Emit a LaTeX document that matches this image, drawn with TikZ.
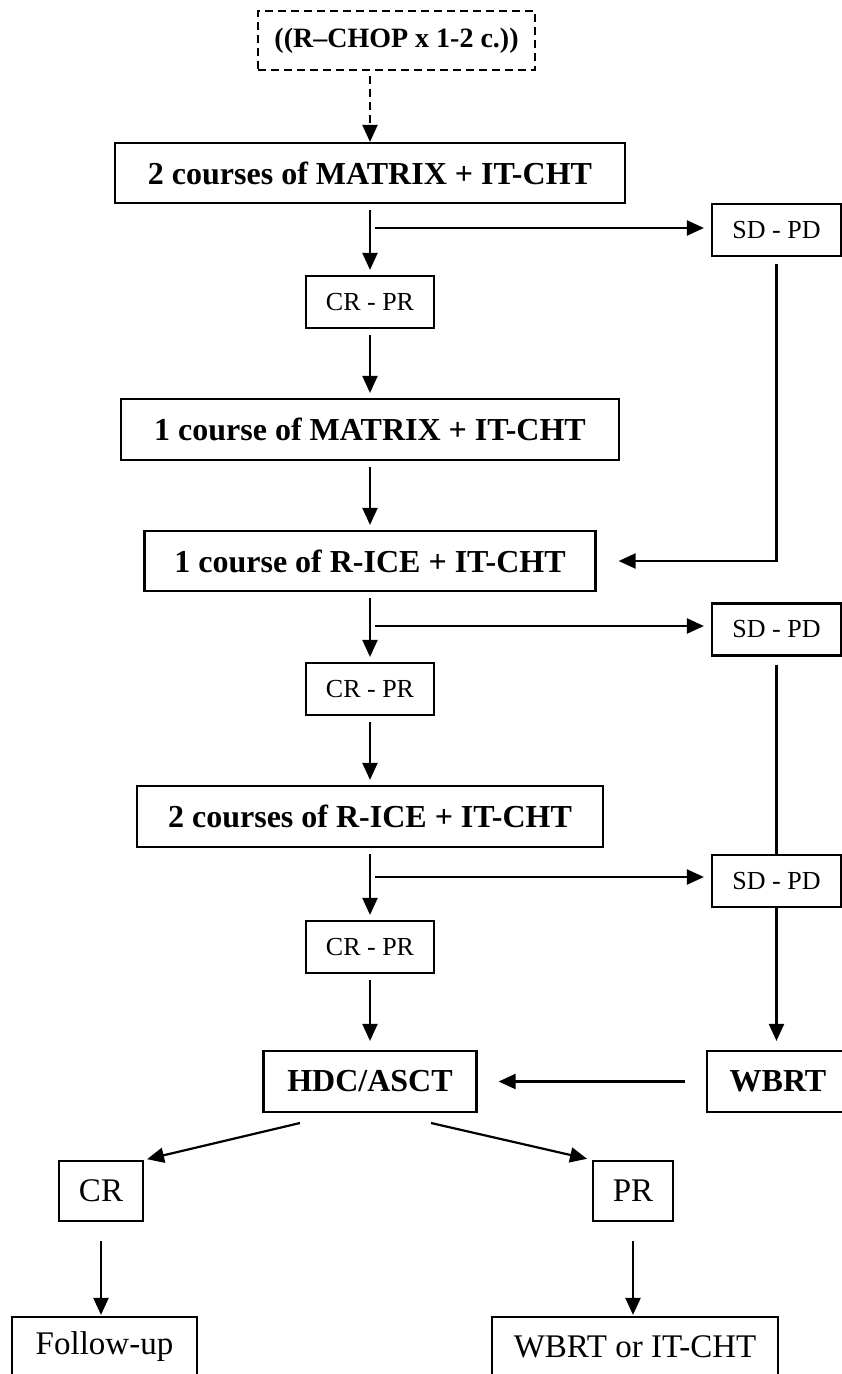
\documentclass[tikz,border=0pt]{standalone}
\usepackage{fontspec}
\setmainfont{Liberation Serif}
\usetikzlibrary{arrows.meta}

\begin{document}
\begin{tikzpicture}[x=1pt,y=-1pt,line width=2.2pt,>={Triangle[length=17pt,width=15pt]},
	box/.style={draw,inner sep=0pt,align=center},
	dashbox/.style={box,dash pattern=on 8pt off 5pt},
	big/.style={font=\fontsize{32}{38}\selectfont\bfseries},
	small/.style={font=\fontsize{26}{30}\selectfont},
	plain/.style={font=\fontsize{33}{38}\selectfont},
	link/.style={->,shorten <=6pt,shorten >=5pt}]

        \def\mx{370}
        \def\sx{776.5}
        \useasboundingbox (0,0) rectangle (842,1374);
        \clip (0,0) rectangle (842,1374);

% main column
        \node[dashbox,font=\fontsize{28}{34}\selectfont\bfseries,minimum width=277pt,minimum height=59pt] (chop) at (396.5,40.5) {((R–CHOP x 1-2 c.))};
        \node[box,big,minimum width=510pt,minimum height=60pt] (m2) at (\mx,173) {2 courses of MATRIX + IT-CHT};
        \node[box,small,minimum width=128pt,minimum height=52pt] (crpr1) at (\mx,302) {CR - PR};
        \node[box,big,minimum width=498pt,minimum height=61pt] (m1) at (\mx,429.5) {1 course of MATRIX + IT-CHT};
        \node[box,big,minimum width=451pt,minimum height=60pt] (ice1) at (\mx,561) {1 course of R-ICE + IT-CHT};
        \node[box,small,minimum width=128pt,minimum height=52pt] (crpr2) at (\mx,689) {CR - PR};
        \node[box,big,minimum width=466pt,minimum height=61pt] (ice2) at (\mx,816.5) {2 courses of R-ICE + IT-CHT};
        \node[box,small,minimum width=128pt,minimum height=52pt] (crpr3) at (\mx,947) {CR - PR};
        \node[box,big,minimum width=213pt,minimum height=61pt] (hdc) at (\mx,1081.5) {HDC/ASCT};

% right column
        \node[box,small,minimum width=129pt,minimum height=52pt] (sd1) at (\sx,230) {SD - PD};
        \node[box,small,minimum width=129pt,minimum height=52pt] (sd2) at (\sx,629.5) {SD - PD};
        \node[box,small,minimum width=129pt,minimum height=52pt] (sd3) at (\sx,881) {SD - PD};
        \node[box,big,minimum width=142pt,minimum height=61pt] (wbrt) at (778,1081.5) {WBRT};

% outcomes
        \node[box,plain,minimum width=84pt,minimum height=60pt] (cr) at (101,1191) {CR};
        \node[box,plain,minimum width=80pt,minimum height=60pt] (pr) at (633,1191) {PR};
        \node[box,plain,minimum width=185pt,minimum height=60pt] (fu) at (104.5,1347) {Follow-up};
        \node[box,plain,minimum width=286pt,minimum height=60pt] (wo) at (635,1347) {WBRT or IT-CHT};

        \coordinate (b1) at (375,228);
        \coordinate (b2) at (375,626);
        \coordinate (b3) at (375,877);
        \coordinate (h1) at (300,1123);
        \coordinate (h2) at (431,1123);

        \draw[->,dash pattern=on 8pt off 5pt,shorten <=5pt] (m2.north |- chop.south) -- (m2.north);
        \draw[link] (m2) -- (crpr1);
        \draw[link] (crpr1) -- (m1);
        \draw[link] (m1) -- (ice1);
        \draw[link] (ice1) -- (crpr2);
        \draw[link] (crpr2) -- (ice2);
        \draw[link] (ice2) -- (crpr3);
        \draw[link,shorten >=9pt] (crpr3) -- (hdc);

        \draw[->,shorten >=7pt] (b1) -- (b1 -| sd1.west);
        \draw[->,shorten >=7pt] (b2) -- (b2 -| sd2.west);
        \draw[->,shorten >=7pt] (b3) -- (b3 -| sd3.west);

        \draw[->,shorten <=7pt,shorten >=22pt] (sd1.south) |- (ice1.east);
        \draw[shorten <=8pt] (sd2.south) -- (sd3.north);
        \draw[->,shorten >=9pt] (sd3.south) -- (sd3.south |- wbrt.north);
        \draw[->,shorten <=21pt,shorten >=21pt] (wbrt.west) -- (wbrt.west -| hdc.east);

        \draw[->,shorten >=3pt] (h1) -- (cr.north east);
        \draw[->,shorten >=5pt] (h2) -- (pr.north west);
        \draw[->,shorten <=19pt,shorten >=1pt] (cr.south) -- (cr.south |- fu.north);
        \draw[->,shorten <=19pt,shorten >=1pt] (pr.south) -- (pr.south |- wo.north);

    \end{tikzpicture}
\end{document}
